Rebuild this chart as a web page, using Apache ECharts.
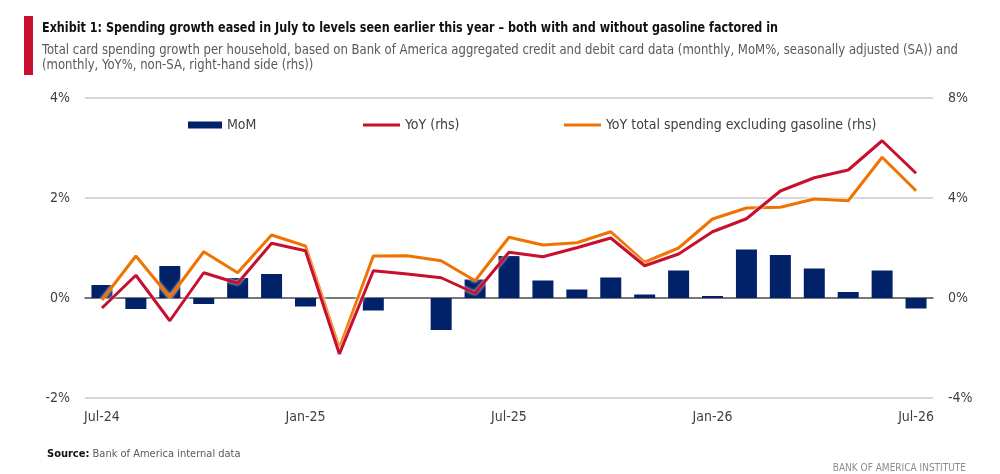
<!DOCTYPE html>
<html>
<head>
<meta charset="utf-8">
<script src="https://cdn.jsdelivr.net/npm/echarts@6/dist/echarts.min.js"></script>
<style>
html,body{margin:0;padding:0;background:#fff;}
#c{width:1000px;height:474px;}
</style>
</head>
<body>
<div id="c"></div>
<script>
const categories = ['Jul-24','Aug-24','Sep-24','Oct-24','Nov-24','Dec-24','Jan-25','Feb-25','Mar-25','Apr-25','May-25','Jun-25','Jul-25','Aug-25','Sep-25','Oct-25','Nov-25','Dec-25','Jan-26','Feb-26','Mar-26','Apr-26','May-26','Jun-26','Jul-26'];
const momValues = [0.26,-0.22,0.64,-0.12,0.40,0.48,-0.17,0.0,-0.25,0.0,-0.64,0.37,0.84,0.35,0.17,0.41,0.07,0.55,0.04,0.97,0.86,0.59,0.12,0.55,-0.21];
const yoyValues = [-0.40,0.91,-0.91,1.01,0.59,2.19,1.89,-2.24,1.09,0.96,0.81,0.19,1.83,1.65,2.01,2.40,1.29,1.76,2.65,3.17,4.28,4.81,5.12,6.29,4.99];
const yoyExGasValues = [-0.08,1.68,0.03,1.85,1.01,2.52,2.08,-2.01,1.68,1.69,1.49,0.69,2.43,2.12,2.21,2.65,1.43,2.00,3.16,3.60,3.63,3.96,3.89,5.63,4.29];
const leftTicks = {min:-2, max:4, interval:2};
const rightTicks = {min:-4, max:8, interval:4};

const titleText = 'Exhibit 1: Spending growth eased in July to levels seen earlier this year – both with and without gasoline factored in';
const subLine1 = 'Total card spending growth per household, based on Bank of America aggregated credit and debit card data (monthly, MoM%, seasonally adjusted (SA)) and';
const subLine2 = '(monthly, YoY%, non-SA, right-hand side (rhs))';

const FONT = '"DejaVu Sans Condensed","Liberation Sans Narrow","Roboto",sans-serif';
const chart = echarts.init(document.getElementById('c'), null, {renderer:'canvas'});
const navy = '#012169', red = '#c8102e', orange = '#ef7300';
const lineShadow = {shadowColor:'rgba(255,255,255,1)', shadowBlur:3};

// horizontal squeeze so the condensed heading text matches the original width
const mctx = document.createElement('canvas').getContext('2d');
function fitScale(text, font, target){ mctx.font = font; return Math.min(1, target / mctx.measureText(text).width); }
const titleScale = fitScale(titleText, 'bold 14px "DejaVu Sans Condensed"', 736);
const subScale = fitScale(subLine1, '13.5px "DejaVu Sans Condensed"', 916);

chart.setOption({
  animation:false,
  backgroundColor:'#fff',
  textStyle:{fontFamily:FONT, fontWeight:'normal'},
  title:[
    {text:'{b|Source:} Bank of America internal data', left:42, top:444,
     textStyle:{fontFamily:FONT, fontSize:11, fontWeight:'normal', color:'#595959', rich:{b:{fontFamily:FONT, fontSize:11, fontWeight:'bold', color:'#111'}}}},
    {text:'BANK OF AMERICA INSTITUTE', right:29, top:458, textStyle:{fontFamily:FONT, fontSize:10, fontWeight:'normal', color:'#8c8c8c'}}
  ],
  graphic:[
    {type:'rect', shape:{x:24,y:16,width:9,height:59}, style:{fill:'#c8102e'}},
    {type:'text', x:42, y:21, scaleX:titleScale, style:{text:titleText, font:'bold 14px "DejaVu Sans Condensed"', fill:'#111'}},
    {type:'text', x:42, y:43, scaleX:subScale, style:{text:subLine1, font:'13.5px "DejaVu Sans Condensed"', fill:'#595959'}},
    {type:'text', x:42, y:58, scaleX:subScale, style:{text:subLine2, font:'13.5px "DejaVu Sans Condensed"', fill:'#595959'}}
  ],
  legend:[
    {data:[{name:'MoM', icon:'rect'}], left:183, top:113, itemWidth:34, itemHeight:7, textStyle:{fontFamily:FONT, fontSize:14, color:'#404040'}},
    {data:[{name:'YoY (rhs)', icon:'path://M0,0H37V3H0Z'}], left:358, top:113, itemWidth:37, itemHeight:7, textStyle:{fontFamily:FONT, fontSize:14, color:'#404040'}},
    {data:[{name:'YoY total spending excluding gasoline (rhs)', icon:'path://M0,0H37V3H0Z'}], left:559, top:113, itemWidth:37, itemHeight:7, textStyle:{fontFamily:FONT, fontSize:14, color:'#404040'}}
  ],
  grid:{left:85, right:67, top:98, bottom:76, containLabel:false},
  xAxis:{
    type:'category', data:categories, boundaryGap:true,
    axisLine:{onZero:true, lineStyle:{color:'#595959', width:1.5}},
    axisTick:{show:false},
    axisLabel:{interval:5, margin:12, fontFamily:FONT, fontSize:14, color:'#404040'},
    splitLine:{show:false}
  },
  yAxis:[
    {type:'value', min:leftTicks.min, max:leftTicks.max, interval:leftTicks.interval,
     axisLine:{show:false}, axisTick:{show:false},
     axisLabel:{formatter:'{value}%', margin:15, fontFamily:FONT, fontSize:14, color:'#404040'},
     splitLine:{lineStyle:{color:'#c8c8c8', width:1.5}}},
    {type:'value', min:rightTicks.min, max:rightTicks.max, interval:rightTicks.interval,
     axisLine:{show:false}, axisTick:{show:false},
     axisLabel:{formatter:'{value}%', margin:15, fontFamily:FONT, fontSize:14, color:'#404040'},
     splitLine:{show:false}}
  ],
  series:[
    {name:'MoM', type:'bar', data:momValues, yAxisIndex:0, barWidth:21,
     itemStyle:{color:navy}},
    {name:'YoY total spending excluding gasoline (rhs)', type:'line', data:yoyExGasValues, yAxisIndex:1,
     symbol:'none', lineStyle:Object.assign({color:orange, width:3}, lineShadow), itemStyle:{color:orange}, z:3},
    {name:'YoY (rhs)', type:'line', data:yoyValues, yAxisIndex:1,
     symbol:'none', lineStyle:Object.assign({color:red, width:3}, lineShadow), itemStyle:{color:red}, z:4}
  ]
});
</script>
</body>
</html>
